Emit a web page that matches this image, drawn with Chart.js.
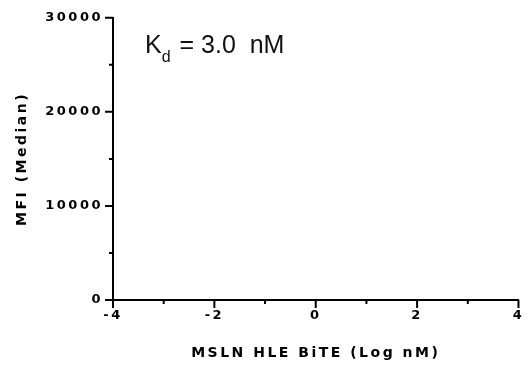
<!DOCTYPE html>
<html>
<head>
<meta charset="utf-8">
<script src="https://cdn.jsdelivr.net/npm/chart.js@4/dist/chart.umd.min.js"></script>
<style>
  html, body { margin: 0; padding: 0; background: #fff; }
  #wrap { width: 531px; height: 368px; }
</style>
</head>
<body>
<div id="wrap"><canvas id="myChart" width="531" height="368"></canvas></div>
<script>
// binding data (panel has no points plotted)
var logConc = [];
var mfiMedian = [];

var xRange = [-4, 4];
var yRange = [0, 30000];
var xLabelStep = 2;
var yLabelStep = 10000;

var kdText = ['K', 'd', ' = 3.0  nM'];
var xTitle = 'MSLN HLE BiTE (Log nM)';
var yTitle = 'MFI (Median)';

var pts = logConc.map(function (x, i) { return { x: x, y: mfiMedian[i] }; });

function isMajor(v, step) { return Math.abs(v % step) < 1e-9; }

// spaced-out bold text like the original export
var spacing = {
  id: 'spacing',
  beforeDraw: function (chart) { chart.ctx.letterSpacing = '2.5px'; },
  afterDraw: function (chart) { chart.ctx.letterSpacing = '0px'; }
};

// major + minor tick marks
var tickMarks = {
  id: 'tickMarks',
  afterDraw: function (chart) {
    var ctx = chart.ctx;
    var xs = chart.scales.x, ys = chart.scales.y;
    ctx.save();
    ctx.strokeStyle = '#000';
    ctx.lineWidth = 2;
    ctx.beginPath();
    xs.ticks.forEach(function (t) {
      var px = xs.getPixelForValue(t.value);
      var len = isMajor(t.value, xLabelStep) ? 8 : 4;
      ctx.moveTo(px, xs.top);
      ctx.lineTo(px, xs.top + len);
    });
    ys.ticks.forEach(function (t) {
      var py = ys.getPixelForValue(t.value);
      var len = isMajor(t.value, yLabelStep) ? 8 : 4;
      ctx.moveTo(ys.right, py);
      ctx.lineTo(ys.right - len, py);
    });
    ctx.stroke();
    ctx.restore();
  }
};

var kdLabel = {
  id: 'kdLabel',
  afterDraw: function (chart) {
    var ctx = chart.ctx;
    var a = chart.chartArea;
    var x = a.left + 32, y = a.top + 35;
    ctx.save();
    ctx.letterSpacing = '0px';
    ctx.fillStyle = '#111';
    ctx.textBaseline = 'alphabetic';
    ctx.textAlign = 'left';
    ctx.font = '25px "Liberation Sans", Arial, sans-serif';
    ctx.fillText(kdText[0], x, y);
    x += ctx.measureText(kdText[0]).width;
    ctx.font = '16px "Liberation Sans", Arial, sans-serif';
    ctx.fillText(kdText[1], x, y + 9);
    x += ctx.measureText(kdText[1]).width + 2;
    ctx.font = '25px "Liberation Sans", Arial, sans-serif';
    ctx.fillText(kdText[2], x, y);
    ctx.restore();
  }
};

var tickFont = { family: '"DejaVu Sans", sans-serif', size: 13, weight: 'bold' };
var titleFont = { family: '"DejaVu Sans", sans-serif', size: 14, weight: 'bold' };

new Chart(document.getElementById('myChart').getContext('2d'), {
  type: 'scatter',
  data: {
    datasets: [{
      label: 'MFI',
      data: pts,
      pointRadius: 4,
      backgroundColor: '#000',
      borderColor: '#000'
    }]
  },
  options: {
    responsive: false,
    animation: false,
    layout: { padding: { left: 0, right: 10, top: 15, bottom: 0 } },
    plugins: { legend: { display: false }, tooltip: { enabled: false } },
    scales: {
      x: {
        type: 'linear',
        min: xRange[0],
        max: xRange[1],
        afterFit: function (s) { s.height = 68; },
        border: { display: true, color: '#000', width: 2 },
        grid: { display: true, drawOnChartArea: false, drawTicks: false },
        ticks: {
          stepSize: 1,
          padding: 8,
          color: '#000',
          font: tickFont,
          maxRotation: 0,
          autoSkip: false,
          callback: function (v) { return isMajor(v, xLabelStep) ? String(v) : ''; }
        },
        title: {
          display: true,
          text: xTitle,
          color: '#000',
          font: titleFont,
          padding: { top: 0, bottom: 6 }
        }
      },
      y: {
        type: 'linear',
        min: yRange[0],
        max: yRange[1],
        afterFit: function (s) { s.width = 113; },
        border: { display: true, color: '#000', width: 2 },
        grid: { display: true, drawOnChartArea: false, drawTicks: false },
        ticks: {
          stepSize: 5000,
          padding: 10,
          color: '#000',
          font: tickFont,
          autoSkip: false,
          callback: function (v) { return isMajor(v, yLabelStep) ? String(v) : ''; }
        },
        title: {
          display: true,
          text: yTitle,
          color: '#000',
          font: titleFont,
          padding: { top: 14, bottom: 0 }
        }
      }
    }
  },
  plugins: [spacing, tickMarks, kdLabel]
});
</script>
</body>
</html>
